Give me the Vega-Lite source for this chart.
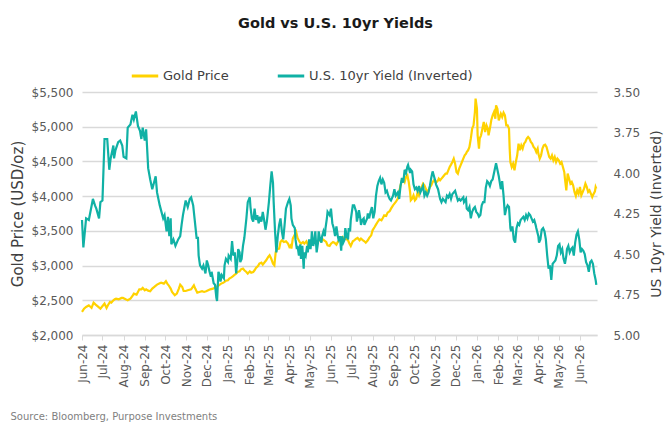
{
"$schema": "https://vega.github.io/schema/vega-lite/v6.json",
"width": 515, "height": 243,
"autosize": {"type": "none"},
"padding": {"left": 82, "top": 92, "right": 73, "bottom": 105},
"background": "white",
"config": {"font": "DejaVu Sans", "view": {"stroke": null}},
"title": {"text": "Gold vs U.S. 10yr Yields", "fontSize": 14.5, "fontWeight": "bold", "color": "#1a1a1a", "anchor": "middle", "offset": 30, "dx": -4},
"datasets": {
"gold": [
{"d":"2024-06-01","v":2332},{"d":"2024-06-04","v":2380},{"d":"2024-06-07","v":2404},{"d":"2024-06-11","v":2428},{"d":"2024-06-15","v":2390},{"d":"2024-06-18","v":2466},{"d":"2024-06-21","v":2438},{"d":"2024-06-25","v":2404},{"d":"2024-06-28","v":2380},{"d":"2024-07-02","v":2428},{"d":"2024-07-04","v":2452},{"d":"2024-07-07","v":2390},{"d":"2024-07-09","v":2428},{"d":"2024-07-12","v":2476},{"d":"2024-07-14","v":2466},{"d":"2024-07-17","v":2500},{"d":"2024-07-19","v":2514},{"d":"2024-07-21","v":2524},{"d":"2024-07-25","v":2514},{"d":"2024-07-29","v":2534},{"d":"2024-07-31","v":2534},{"d":"2024-08-04","v":2514},{"d":"2024-08-07","v":2500},{"d":"2024-08-11","v":2524},{"d":"2024-08-14","v":2562},{"d":"2024-08-16","v":2596},{"d":"2024-08-20","v":2582},{"d":"2024-08-22","v":2620},{"d":"2024-08-24","v":2658},{"d":"2024-08-27","v":2658},{"d":"2024-08-29","v":2678},{"d":"2024-09-01","v":2644},{"d":"2024-09-03","v":2658},{"d":"2024-09-06","v":2639},{"d":"2024-09-09","v":2630},{"d":"2024-09-12","v":2668},{"d":"2024-09-15","v":2692},{"d":"2024-09-19","v":2726},{"d":"2024-09-23","v":2745},{"d":"2024-09-25","v":2754},{"d":"2024-09-29","v":2740},{"d":"2024-10-02","v":2774},{"d":"2024-10-04","v":2740},{"d":"2024-10-06","v":2716},{"d":"2024-10-09","v":2668},{"d":"2024-10-11","v":2620},{"d":"2024-10-15","v":2572},{"d":"2024-10-18","v":2596},{"d":"2024-10-21","v":2668},{"d":"2024-10-23","v":2726},{"d":"2024-10-26","v":2692},{"d":"2024-10-28","v":2634},{"d":"2024-10-31","v":2634},
{"d":"2024-11-03","v":2644},{"d":"2024-11-08","v":2658},{"d":"2024-11-12","v":2716},{"d":"2024-11-14","v":2668},{"d":"2024-11-17","v":2610},{"d":"2024-11-20","v":2620},{"d":"2024-11-24","v":2630},{"d":"2024-11-27","v":2620},{"d":"2024-11-30","v":2630},{"d":"2024-12-03","v":2644},{"d":"2024-12-06","v":2658},{"d":"2024-12-10","v":2668},{"d":"2024-12-12","v":2678},{"d":"2024-12-15","v":2692},{"d":"2024-12-17","v":2706},{"d":"2024-12-20","v":2726},{"d":"2024-12-22","v":2740},{"d":"2024-12-25","v":2754},{"d":"2024-12-27","v":2764},{"d":"2024-12-29","v":2783},{"d":"2025-01-01","v":2788},{"d":"2025-01-03","v":2812},{"d":"2025-01-06","v":2831},{"d":"2025-01-08","v":2846},{"d":"2025-01-11","v":2870},{"d":"2025-01-13","v":2884},{"d":"2025-01-15","v":2908},{"d":"2025-01-18","v":2918},{"d":"2025-01-20","v":2946},{"d":"2025-01-23","v":2956},{"d":"2025-01-25","v":2932},{"d":"2025-01-28","v":2908},{"d":"2025-01-30","v":2884},{"d":"2025-02-02","v":2918},{"d":"2025-02-04","v":2898},{"d":"2025-02-07","v":2908},{"d":"2025-02-09","v":2932},{"d":"2025-02-11","v":2966},{"d":"2025-02-14","v":2994},{"d":"2025-02-16","v":3028},{"d":"2025-02-19","v":3042},{"d":"2025-02-21","v":3014},{"d":"2025-02-24","v":3052},{"d":"2025-02-26","v":3076},{"d":"2025-03-01","v":3124},{"d":"2025-03-03","v":3148},{"d":"2025-03-05","v":3110},{"d":"2025-03-08","v":3028},{"d":"2025-03-10","v":3004},{"d":"2025-03-12","v":3196},{"d":"2025-03-14","v":3234},{"d":"2025-03-17","v":3244},{"d":"2025-03-19","v":3340},{"d":"2025-03-21","v":3364},{"d":"2025-03-24","v":3340},{"d":"2025-03-27","v":3350},{"d":"2025-03-30","v":3316},{"d":"2025-04-01","v":3268},{"d":"2025-04-03","v":3292},
{"d":"2025-04-04","v":3244},{"d":"2025-04-06","v":3388},{"d":"2025-04-09","v":3446},{"d":"2025-04-11","v":3484},{"d":"2025-04-13","v":3398},{"d":"2025-04-16","v":3340},{"d":"2025-04-18","v":3316},{"d":"2025-04-21","v":3340},{"d":"2025-04-23","v":3316},{"d":"2025-04-26","v":3350},{"d":"2025-04-28","v":3302},{"d":"2025-05-01","v":3340},{"d":"2025-05-03","v":3350},{"d":"2025-05-05","v":3316},{"d":"2025-05-08","v":3340},{"d":"2025-05-10","v":3330},{"d":"2025-05-13","v":3359},{"d":"2025-05-15","v":3364},{"d":"2025-05-18","v":3350},{"d":"2025-05-20","v":3378},{"d":"2025-05-22","v":3364},{"d":"2025-05-25","v":3340},{"d":"2025-05-27","v":3292},{"d":"2025-05-30","v":3282},{"d":"2025-06-01","v":3316},{"d":"2025-06-04","v":3340},{"d":"2025-06-06","v":3330},{"d":"2025-06-09","v":3302},{"d":"2025-06-11","v":3340},{"d":"2025-06-13","v":3364},{"d":"2025-06-16","v":3388},{"d":"2025-06-18","v":3412},{"d":"2025-06-21","v":3378},{"d":"2025-06-23","v":3388},{"d":"2025-06-26","v":3364},{"d":"2025-06-28","v":3316},{"d":"2025-06-30","v":3282},{"d":"2025-07-03","v":3350},{"d":"2025-07-05","v":3364},{"d":"2025-07-08","v":3388},{"d":"2025-07-10","v":3398},{"d":"2025-07-13","v":3364},{"d":"2025-07-15","v":3388},{"d":"2025-07-18","v":3364},{"d":"2025-07-20","v":3350},{"d":"2025-07-22","v":3330},{"d":"2025-07-25","v":3364},{"d":"2025-07-27","v":3398},{"d":"2025-07-30","v":3436},{"d":"2025-08-01","v":3508},{"d":"2025-08-04","v":3556},{"d":"2025-08-06","v":3590},{"d":"2025-08-09","v":3638},{"d":"2025-08-11","v":3666},{"d":"2025-08-14","v":3652},{"d":"2025-08-16","v":3686},{"d":"2025-08-18","v":3724},{"d":"2025-08-21","v":3714},{"d":"2025-08-23","v":3762},{"d":"2025-08-26","v":3782},{"d":"2025-08-28","v":3820},{"d":"2025-08-31","v":3868},{"d":"2025-09-02","v":3892},
{"d":"2025-09-04","v":3916},{"d":"2025-09-07","v":3964},{"d":"2025-09-09","v":4060},{"d":"2025-09-11","v":4156},{"d":"2025-09-13","v":4228},{"d":"2025-09-15","v":4242},{"d":"2025-09-17","v":4204},{"d":"2025-09-19","v":4276},{"d":"2025-09-21","v":4300},{"d":"2025-09-23","v":4204},{"d":"2025-09-25","v":4060},{"d":"2025-09-26","v":3940},{"d":"2025-09-28","v":3964},{"d":"2025-09-30","v":4012},{"d":"2025-10-02","v":3940},{"d":"2025-10-04","v":3964},{"d":"2025-10-06","v":4060},{"d":"2025-10-08","v":4012},{"d":"2025-10-10","v":4084},{"d":"2025-10-12","v":4132},{"d":"2025-10-14","v":4180},{"d":"2025-10-16","v":4156},{"d":"2025-10-18","v":4108},{"d":"2025-10-20","v":4060},{"d":"2025-10-22","v":4084},{"d":"2025-10-24","v":4132},{"d":"2025-10-26","v":4156},{"d":"2025-10-28","v":4204},{"d":"2025-10-30","v":4228},{"d":"2025-11-01","v":4204},{"d":"2025-11-03","v":4204},{"d":"2025-11-05","v":4228},{"d":"2025-11-06","v":4252},{"d":"2025-11-08","v":4228},{"d":"2025-11-10","v":4252},{"d":"2025-11-12","v":4276},{"d":"2025-11-14","v":4300},{"d":"2025-11-16","v":4324},{"d":"2025-11-18","v":4324},{"d":"2025-11-20","v":4372},{"d":"2025-11-22","v":4420},{"d":"2025-11-24","v":4454},{"d":"2025-11-26","v":4492},{"d":"2025-11-28","v":4540},{"d":"2025-11-30","v":4468},{"d":"2025-12-02","v":4348},{"d":"2025-12-04","v":4324},{"d":"2025-12-06","v":4396},{"d":"2025-12-08","v":4444},{"d":"2025-12-10","v":4492},{"d":"2025-12-12","v":4540},{"d":"2025-12-14","v":4588},{"d":"2025-12-16","v":4612},{"d":"2025-12-17","v":4636},{"d":"2025-12-19","v":4660},{"d":"2025-12-21","v":4708},{"d":"2025-12-23","v":4828},{"d":"2025-12-25","v":4972},{"d":"2025-12-27","v":5020},{"d":"2025-12-29","v":5212},{"d":"2025-12-30","v":5404},{"d":"2026-01-01","v":5260},{"d":"2026-01-02","v":4876},{"d":"2026-01-04","v":4684},{"d":"2026-01-05","v":4828},{"d":"2026-01-07","v":4876},{"d":"2026-01-09","v":4972},{"d":"2026-01-11","v":5068},{"d":"2026-01-13","v":4924},{"d":"2026-01-15","v":5020},{"d":"2026-01-17","v":4972},{"d":"2026-01-18","v":4876},{"d":"2026-01-20","v":4972},{"d":"2026-01-22","v":5092},{"d":"2026-01-24","v":5164},{"d":"2026-01-26","v":5212},{"d":"2026-01-28","v":5116},{"d":"2026-01-29","v":5308},{"d":"2026-01-31","v":5260},
{"d":"2026-02-02","v":5092},{"d":"2026-02-05","v":5188},{"d":"2026-02-07","v":5140},{"d":"2026-02-09","v":5202},{"d":"2026-02-11","v":5164},{"d":"2026-02-13","v":5020},{"d":"2026-02-15","v":5020},{"d":"2026-02-17","v":4972},{"d":"2026-02-18","v":4684},{"d":"2026-02-19","v":4492},{"d":"2026-02-21","v":4420},{"d":"2026-02-23","v":4468},{"d":"2026-02-25","v":4372},{"d":"2026-02-27","v":4492},{"d":"2026-03-01","v":4588},{"d":"2026-03-03","v":4756},{"d":"2026-03-05","v":4660},{"d":"2026-03-07","v":4732},{"d":"2026-03-09","v":4684},{"d":"2026-03-11","v":4756},{"d":"2026-03-13","v":4780},{"d":"2026-03-15","v":4828},{"d":"2026-03-17","v":4852},{"d":"2026-03-19","v":4828},{"d":"2026-03-21","v":4780},{"d":"2026-03-23","v":4756},{"d":"2026-03-25","v":4708},{"d":"2026-03-27","v":4684},{"d":"2026-03-29","v":4636},{"d":"2026-03-31","v":4684},{"d":"2026-04-01","v":4612},{"d":"2026-04-03","v":4540},{"d":"2026-04-05","v":4588},{"d":"2026-04-07","v":4684},{"d":"2026-04-09","v":4732},{"d":"2026-04-11","v":4742},{"d":"2026-04-13","v":4708},{"d":"2026-04-15","v":4636},{"d":"2026-04-17","v":4564},{"d":"2026-04-19","v":4540},{"d":"2026-04-21","v":4588},{"d":"2026-04-23","v":4516},{"d":"2026-04-25","v":4564},{"d":"2026-04-27","v":4492},{"d":"2026-04-29","v":4540},{"d":"2026-05-01","v":4516},{"d":"2026-05-03","v":4468},{"d":"2026-05-05","v":4492},{"d":"2026-05-07","v":4420},{"d":"2026-05-09","v":4348},{"d":"2026-05-10","v":4252},{"d":"2026-05-12","v":4084},{"d":"2026-05-13","v":4204},{"d":"2026-05-14","v":4324},{"d":"2026-05-16","v":4252},{"d":"2026-05-18","v":4180},{"d":"2026-05-20","v":4204},{"d":"2026-05-22","v":4156},{"d":"2026-05-24","v":4060},{"d":"2026-05-26","v":4002},{"d":"2026-05-28","v":4084},{"d":"2026-05-30","v":4036},{"d":"2026-06-01","v":4132},{"d":"2026-06-03","v":4012},{"d":"2026-06-05","v":4060},{"d":"2026-06-07","v":4108},{"d":"2026-06-09","v":4180},{"d":"2026-06-11","v":4132},{"d":"2026-06-13","v":4060},{"d":"2026-06-15","v":4084},{"d":"2026-06-17","v":4036},{"d":"2026-06-19","v":3988},{"d":"2026-06-20","v":4012},{"d":"2026-06-23","v":4070},{"d":"2026-06-24","v":4132},{"d":"2026-06-25","v":4108}
],
"yield": [
{"d":"2024-06-01","v":4.29},{"d":"2024-06-03","v":4.46},{"d":"2024-06-07","v":4.28},{"d":"2024-06-11","v":4.29},{"d":"2024-06-17","v":4.16},{"d":"2024-06-20","v":4.20},{"d":"2024-06-22","v":4.22},{"d":"2024-06-26","v":4.28},{"d":"2024-06-28","v":4.18},{"d":"2024-07-01","v":4.17},{"d":"2024-07-04","v":3.79},{"d":"2024-07-08","v":3.79},{"d":"2024-07-11","v":3.98},{"d":"2024-07-13","v":3.91},{"d":"2024-07-17","v":3.83},{"d":"2024-07-18","v":3.91},{"d":"2024-07-20","v":3.86},{"d":"2024-07-24","v":3.81},{"d":"2024-07-27","v":3.80},{"d":"2024-07-30","v":3.83},{"d":"2024-08-01","v":3.90},{"d":"2024-08-05","v":3.91},{"d":"2024-08-07","v":3.72},{"d":"2024-08-11","v":3.70},{"d":"2024-08-14","v":3.64},{"d":"2024-08-16","v":3.67},{"d":"2024-08-19","v":3.62},{"d":"2024-08-22","v":3.71},{"d":"2024-08-25","v":3.74},{"d":"2024-08-27","v":3.79},{"d":"2024-08-29","v":3.72},{"d":"2024-09-01","v":3.80},{"d":"2024-09-03","v":3.73},{"d":"2024-09-06","v":3.97},{"d":"2024-09-09","v":4.04},{"d":"2024-09-12","v":4.10},{"d":"2024-09-17","v":4.02},{"d":"2024-09-19","v":4.12},{"d":"2024-09-23","v":4.20},{"d":"2024-09-28","v":4.28},{"d":"2024-09-30","v":4.26},{"d":"2024-10-03","v":4.36},{"d":"2024-10-05","v":4.27},{"d":"2024-10-07","v":4.39},{"d":"2024-10-09","v":4.28},{"d":"2024-10-10","v":4.44},{"d":"2024-10-13","v":4.41},{"d":"2024-10-16","v":4.45},{"d":"2024-10-20","v":4.41},{"d":"2024-10-23","v":4.39},{"d":"2024-10-25","v":4.32},{"d":"2024-10-27","v":4.26},{"d":"2024-10-31","v":4.17},
{"d":"2024-11-03","v":4.21},{"d":"2024-11-06","v":4.16},{"d":"2024-11-08","v":4.15},{"d":"2024-11-11","v":4.20},{"d":"2024-11-13","v":4.28},{"d":"2024-11-16","v":4.40},{"d":"2024-11-18","v":4.40},{"d":"2024-11-19","v":4.51},{"d":"2024-11-21","v":4.57},{"d":"2024-11-24","v":4.59},{"d":"2024-11-26","v":4.57},{"d":"2024-11-29","v":4.62},{"d":"2024-12-01","v":4.54},{"d":"2024-12-03","v":4.57},{"d":"2024-12-05","v":4.61},{"d":"2024-12-07","v":4.64},{"d":"2024-12-08","v":4.61},{"d":"2024-12-11","v":4.68},{"d":"2024-12-13","v":4.69},{"d":"2024-12-15","v":4.77},{"d":"2024-12-16","v":4.79},{"d":"2024-12-18","v":4.61},{"d":"2024-12-20","v":4.63},{"d":"2024-12-21","v":4.67},{"d":"2024-12-23","v":4.63},{"d":"2024-12-26","v":4.65},{"d":"2024-12-27","v":4.57},{"d":"2024-12-29","v":4.53},{"d":"2025-01-01","v":4.55},{"d":"2025-01-02","v":4.51},{"d":"2025-01-05","v":4.53},{"d":"2025-01-07","v":4.42},{"d":"2025-01-09","v":4.51},{"d":"2025-01-11","v":4.49},{"d":"2025-01-13","v":4.62},{"d":"2025-01-15","v":4.53},{"d":"2025-01-16","v":4.47},{"d":"2025-01-18","v":4.49},{"d":"2025-01-19","v":4.55},{"d":"2025-01-21","v":4.53},{"d":"2025-01-23","v":4.45},{"d":"2025-01-25","v":4.40},{"d":"2025-01-28","v":4.28},{"d":"2025-01-30","v":4.18},{"d":"2025-02-02","v":4.15},{"d":"2025-02-03","v":4.21},{"d":"2025-02-05","v":4.28},{"d":"2025-02-07","v":4.30},{"d":"2025-02-09","v":4.22},{"d":"2025-02-11","v":4.29},{"d":"2025-02-13","v":4.26},{"d":"2025-02-15","v":4.31},{"d":"2025-02-17","v":4.27},{"d":"2025-02-19","v":4.30},{"d":"2025-02-21","v":4.24},{"d":"2025-02-23","v":4.29},{"d":"2025-02-25","v":4.35},{"d":"2025-02-27","v":4.30},{"d":"2025-03-01","v":4.22},{"d":"2025-03-02","v":4.18},{"d":"2025-03-04","v":4.08},{"d":"2025-03-06","v":3.99},{"d":"2025-03-08","v":4.06},{"d":"2025-03-09","v":4.18},{"d":"2025-03-11","v":4.36},{"d":"2025-03-13","v":4.49},{"d":"2025-03-15","v":4.39},{"d":"2025-03-17","v":4.32},{"d":"2025-03-19","v":4.28},{"d":"2025-03-21","v":4.36},{"d":"2025-03-23","v":4.41},{"d":"2025-03-25","v":4.32},{"d":"2025-03-27","v":4.22},{"d":"2025-03-30","v":4.18},{"d":"2025-04-01","v":4.16},{"d":"2025-04-03","v":4.20},
{"d":"2025-04-04","v":4.28},{"d":"2025-04-06","v":4.32},{"d":"2025-04-09","v":4.34},{"d":"2025-04-10","v":4.41},{"d":"2025-04-12","v":4.47},{"d":"2025-04-13","v":4.45},{"d":"2025-04-15","v":4.51},{"d":"2025-04-17","v":4.44},{"d":"2025-04-18","v":4.53},{"d":"2025-04-20","v":4.45},{"d":"2025-04-22","v":4.59},{"d":"2025-04-23","v":4.49},{"d":"2025-04-25","v":4.51},{"d":"2025-04-27","v":4.45},{"d":"2025-04-28","v":4.49},{"d":"2025-04-30","v":4.41},{"d":"2025-05-02","v":4.47},{"d":"2025-05-03","v":4.43},{"d":"2025-05-04","v":4.36},{"d":"2025-05-06","v":4.45},{"d":"2025-05-08","v":4.41},{"d":"2025-05-09","v":4.36},{"d":"2025-05-11","v":4.49},{"d":"2025-05-13","v":4.43},{"d":"2025-05-14","v":4.36},{"d":"2025-05-16","v":4.41},{"d":"2025-05-18","v":4.43},{"d":"2025-05-19","v":4.39},{"d":"2025-05-21","v":4.36},{"d":"2025-05-23","v":4.39},{"d":"2025-05-24","v":4.34},{"d":"2025-05-26","v":4.28},{"d":"2025-05-27","v":4.24},{"d":"2025-05-30","v":4.26},{"d":"2025-06-01","v":4.22},{"d":"2025-06-03","v":4.31},{"d":"2025-06-05","v":4.34},{"d":"2025-06-07","v":4.39},{"d":"2025-06-09","v":4.33},{"d":"2025-06-11","v":4.39},{"d":"2025-06-12","v":4.41},{"d":"2025-06-14","v":4.39},{"d":"2025-06-16","v":4.48},{"d":"2025-06-17","v":4.39},{"d":"2025-06-19","v":4.43},{"d":"2025-06-21","v":4.41},{"d":"2025-06-22","v":4.34},{"d":"2025-06-24","v":4.39},{"d":"2025-06-26","v":4.41},{"d":"2025-06-27","v":4.34},{"d":"2025-06-29","v":4.36},{"d":"2025-06-30","v":4.29},{"d":"2025-07-03","v":4.20},{"d":"2025-07-05","v":4.20},{"d":"2025-07-08","v":4.24},{"d":"2025-07-09","v":4.30},{"d":"2025-07-11","v":4.26},{"d":"2025-07-12","v":4.23},{"d":"2025-07-14","v":4.28},{"d":"2025-07-15","v":4.32},{"d":"2025-07-17","v":4.29},{"d":"2025-07-19","v":4.28},{"d":"2025-07-20","v":4.32},{"d":"2025-07-22","v":4.30},{"d":"2025-07-24","v":4.28},{"d":"2025-07-25","v":4.25},{"d":"2025-07-27","v":4.28},{"d":"2025-07-29","v":4.24},{"d":"2025-07-31","v":4.21},{"d":"2025-08-02","v":4.28},{"d":"2025-08-04","v":4.24},{"d":"2025-08-06","v":4.14},{"d":"2025-08-08","v":4.08},{"d":"2025-08-10","v":4.05},{"d":"2025-08-12","v":4.03},{"d":"2025-08-14","v":4.07},{"d":"2025-08-16","v":4.04},{"d":"2025-08-18","v":4.06},{"d":"2025-08-20","v":4.12},{"d":"2025-08-22","v":4.11},{"d":"2025-08-24","v":4.14},{"d":"2025-08-26","v":4.16},{"d":"2025-08-28","v":4.17},{"d":"2025-08-31","v":4.14},{"d":"2025-09-02","v":4.10},
{"d":"2025-09-04","v":4.14},{"d":"2025-09-07","v":4.12},{"d":"2025-09-09","v":4.16},{"d":"2025-09-11","v":4.08},{"d":"2025-09-13","v":4.03},{"d":"2025-09-15","v":4.06},{"d":"2025-09-17","v":3.98},{"d":"2025-09-19","v":4.00},{"d":"2025-09-21","v":3.96},{"d":"2025-09-22","v":3.95},{"d":"2025-09-25","v":4.00},{"d":"2025-09-26","v":3.98},{"d":"2025-09-28","v":3.99},{"d":"2025-09-30","v":4.07},{"d":"2025-10-02","v":4.10},{"d":"2025-10-04","v":4.09},{"d":"2025-10-06","v":4.11},{"d":"2025-10-08","v":4.08},{"d":"2025-10-10","v":4.12},{"d":"2025-10-12","v":4.10},{"d":"2025-10-14","v":4.08},{"d":"2025-10-16","v":4.14},{"d":"2025-10-18","v":4.12},{"d":"2025-10-20","v":4.14},{"d":"2025-10-22","v":4.12},{"d":"2025-10-24","v":4.08},{"d":"2025-10-26","v":4.03},{"d":"2025-10-28","v":3.99},{"d":"2025-10-30","v":4.02},{"d":"2025-11-01","v":4.05},{"d":"2025-11-02","v":4.07},{"d":"2025-11-05","v":4.10},{"d":"2025-11-06","v":4.12},{"d":"2025-11-08","v":4.16},{"d":"2025-11-10","v":4.18},{"d":"2025-11-12","v":4.16},{"d":"2025-11-14","v":4.17},{"d":"2025-11-16","v":4.18},{"d":"2025-11-18","v":4.14},{"d":"2025-11-20","v":4.15},{"d":"2025-11-22","v":4.13},{"d":"2025-11-24","v":4.16},{"d":"2025-11-26","v":4.13},{"d":"2025-11-28","v":4.12},{"d":"2025-11-30","v":4.11},{"d":"2025-12-02","v":4.14},{"d":"2025-12-04","v":4.17},{"d":"2025-12-06","v":4.16},{"d":"2025-12-08","v":4.17},{"d":"2025-12-10","v":4.16},{"d":"2025-12-12","v":4.15},{"d":"2025-12-13","v":4.18},{"d":"2025-12-16","v":4.16},{"d":"2025-12-17","v":4.22},{"d":"2025-12-19","v":4.23},{"d":"2025-12-21","v":4.21},{"d":"2025-12-23","v":4.28},{"d":"2025-12-25","v":4.24},{"d":"2025-12-27","v":4.22},{"d":"2025-12-29","v":4.21},{"d":"2025-12-31","v":4.24},{"d":"2026-01-02","v":4.25},{"d":"2026-01-04","v":4.27},{"d":"2026-01-06","v":4.26},{"d":"2026-01-08","v":4.20},{"d":"2026-01-10","v":4.18},{"d":"2026-01-12","v":4.18},{"d":"2026-01-14","v":4.09},{"d":"2026-01-16","v":4.05},{"d":"2026-01-18","v":4.06},{"d":"2026-01-20","v":4.08},{"d":"2026-01-22","v":4.05},{"d":"2026-01-24","v":4.04},{"d":"2026-01-25","v":4.02},{"d":"2026-01-28","v":3.96},{"d":"2026-01-29","v":3.94},
{"d":"2026-02-02","v":4.02},{"d":"2026-02-05","v":4.10},{"d":"2026-02-07","v":4.05},{"d":"2026-02-09","v":4.14},{"d":"2026-02-11","v":4.26},{"d":"2026-02-13","v":4.22},{"d":"2026-02-15","v":4.20},{"d":"2026-02-17","v":4.21},{"d":"2026-02-19","v":4.34},{"d":"2026-02-20","v":4.36},{"d":"2026-02-22","v":4.33},{"d":"2026-02-24","v":4.41},{"d":"2026-02-26","v":4.43},{"d":"2026-02-28","v":4.34},{"d":"2026-03-02","v":4.31},{"d":"2026-03-04","v":4.32},{"d":"2026-03-06","v":4.29},{"d":"2026-03-08","v":4.28},{"d":"2026-03-10","v":4.27},{"d":"2026-03-12","v":4.29},{"d":"2026-03-14","v":4.26},{"d":"2026-03-16","v":4.28},{"d":"2026-03-18","v":4.25},{"d":"2026-03-20","v":4.26},{"d":"2026-03-22","v":4.28},{"d":"2026-03-24","v":4.30},{"d":"2026-03-26","v":4.29},{"d":"2026-03-28","v":4.32},{"d":"2026-03-29","v":4.34},{"d":"2026-04-01","v":4.39},{"d":"2026-04-02","v":4.43},{"d":"2026-04-04","v":4.41},{"d":"2026-04-06","v":4.35},{"d":"2026-04-08","v":4.34},{"d":"2026-04-10","v":4.36},{"d":"2026-04-12","v":4.41},{"d":"2026-04-14","v":4.51},{"d":"2026-04-16","v":4.59},{"d":"2026-04-18","v":4.57},{"d":"2026-04-20","v":4.66},{"d":"2026-04-22","v":4.56},{"d":"2026-04-24","v":4.55},{"d":"2026-04-26","v":4.54},{"d":"2026-04-28","v":4.51},{"d":"2026-04-30","v":4.45},{"d":"2026-05-02","v":4.44},{"d":"2026-05-04","v":4.49},{"d":"2026-05-06","v":4.47},{"d":"2026-05-08","v":4.53},{"d":"2026-05-10","v":4.56},{"d":"2026-05-12","v":4.51},{"d":"2026-05-13","v":4.47},{"d":"2026-05-15","v":4.45},{"d":"2026-05-17","v":4.49},{"d":"2026-05-19","v":4.47},{"d":"2026-05-21","v":4.46},{"d":"2026-05-23","v":4.51},{"d":"2026-05-25","v":4.43},{"d":"2026-05-27","v":4.38},{"d":"2026-05-29","v":4.36},{"d":"2026-05-31","v":4.41},{"d":"2026-06-02","v":4.49},{"d":"2026-06-04","v":4.47},{"d":"2026-06-06","v":4.48},{"d":"2026-06-08","v":4.50},{"d":"2026-06-10","v":4.55},{"d":"2026-06-12","v":4.57},{"d":"2026-06-14","v":4.61},{"d":"2026-06-16","v":4.55},{"d":"2026-06-18","v":4.54},{"d":"2026-06-20","v":4.56},{"d":"2026-06-22","v":4.62},{"d":"2026-06-24","v":4.66},{"d":"2026-06-25","v":4.69}
]
},
"encoding": {
"x": {"field": "d", "type": "temporal",
"scale": {"type": "utc", "domain": [{"year": 2024, "month": 6, "date": 1, "utc": true}, {"year": 2026, "month": 6, "date": 26, "utc": true}]},
"axis": {"title": "Source: Bloomberg, Purpose Investments", "titleFontSize": 10, "titleFontWeight": "normal", "titleColor": "#7f7f7f", "titleAnchor": "start", "titleAlign": "left", "titleBaseline": "alphabetic", "titleAngle": 0, "titleX": -72, "titleY": 84,
"format": "%b-%y", "tickCount": {"interval": "month", "step": 1}, "labelAngle": -90, "labelFontSize": 12, "labelColor": "#595959", "labelPadding": 4, "labelOverlap": false, "labelFlush": false,
"tickColor": "#d9d9d9", "tickSize": 5, "domainColor": "#d9d9d9", "domainWidth": 1.5, "grid": false}}
},
"layer": [
{"data": {"name": "gold"},
"mark": {"type": "line", "strokeWidth": 2.2},
"encoding": {
"y": {"field": "v", "type": "quantitative", "scale": {"domain": [2000, 5500], "nice": false, "zero": false},
"axis": {"orient": "left", "values": [2000, 2500, 3000, 3500, 4000, 4500, 5000, 5500], "format": "$,.0f", "title": "Gold Price (USD/oz)", "titleFontSize": 15, "titleFontWeight": "normal", "titleColor": "#404040", "titlePadding": 6, "labelFontSize": 12, "labelColor": "#595959", "labelPadding": 9, "ticks": false, "domain": false, "grid": true, "gridColor": "#d9d9d9", "gridWidth": 1.5}},
"color": {"datum": "Gold Price", "type": "nominal",
"scale": {"domain": ["Gold Price", "U.S. 10yr Yield (Inverted)"], "range": ["#FFD200", "#10B1A5"]},
"legend": {"orient": "none", "legendX": 48, "legendY": -31, "direction": "horizontal", "title": null, "symbolType": "stroke", "symbolStrokeWidth": 3, "symbolSize": 700, "labelFontSize": 13, "labelColor": "#404040", "labelLimit": 400, "columnPadding": 42, "labelOffset": 3}}
}},
{"data": {"name": "yield"},
"mark": {"type": "line", "strokeWidth": 2.2},
"encoding": {
"y": {"field": "v", "type": "quantitative", "scale": {"domain": [3.5, 5], "reverse": true, "nice": false, "zero": false},
"axis": {"orient": "right", "values": [3.5, 3.75, 4, 4.25, 4.5, 4.75, 5], "format": ".2f", "title": "US 10yr Yield (Inverted)", "titleAngle": 270, "titleBaseline": "top", "titleFontSize": 14, "titleFontWeight": "normal", "titleColor": "#404040", "titlePadding": 10, "labelFontSize": 12, "labelColor": "#595959", "labelPadding": 16, "ticks": false, "domain": false, "grid": false}},
"color": {"datum": "U.S. 10yr Yield (Inverted)", "type": "nominal"}
}}
],
"resolve": {"scale": {"y": "independent"}}
}
